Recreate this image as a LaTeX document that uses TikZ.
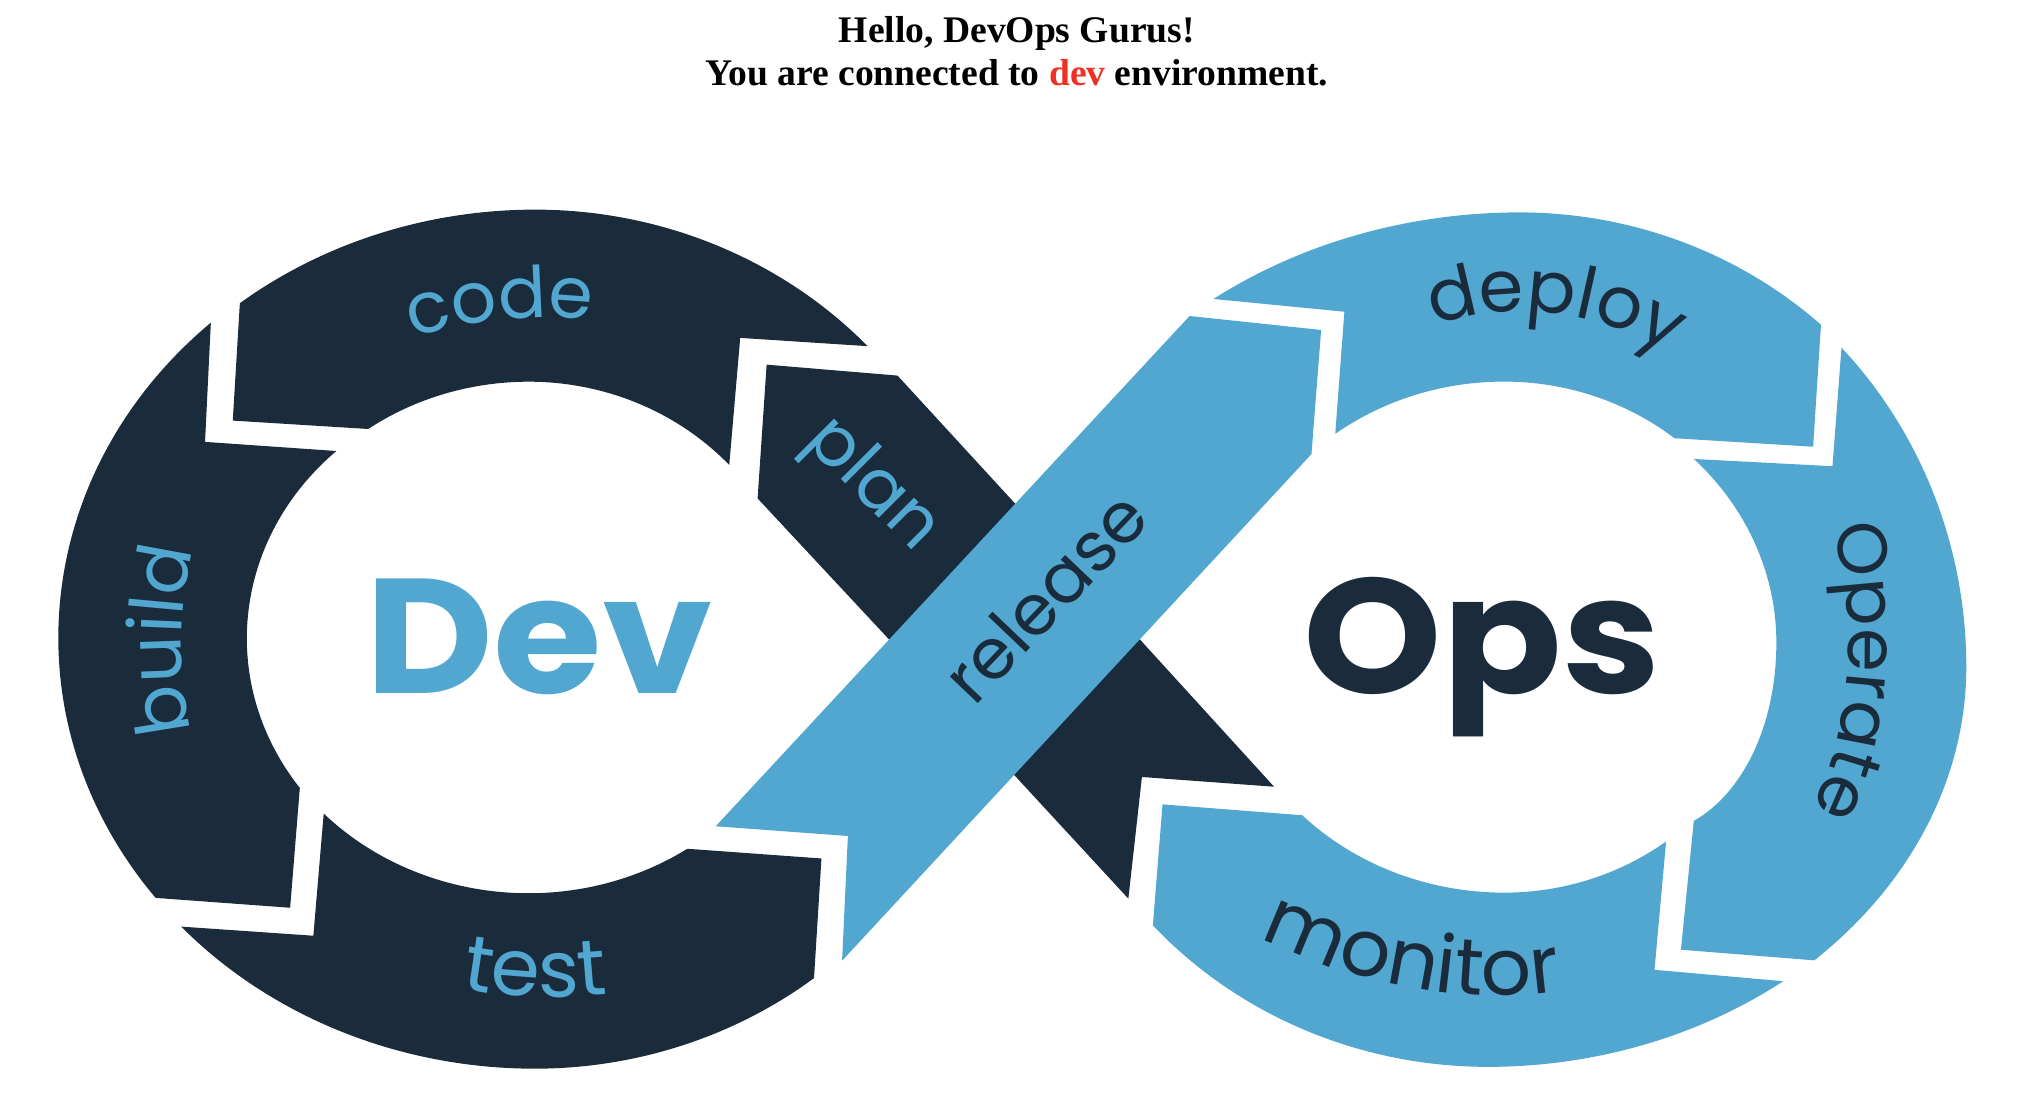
\documentclass[tikz,border=0pt]{standalone}
\usepackage{fontspec}
\usetikzlibrary{decorations.text}
\setmainfont{Liberation Serif}
\newfontfamily\poppinsfont{Poppins}
\newfontfamily\poppinswidefont[FakeStretch=1.08]{Poppins}
\newcommand{\wordfont}[1]{\poppinsfont\fontsize{#1}{#1}\selectfont}
\newcommand{\bigwordfont}{\poppinswidefont\bfseries\fontsize{46.5}{46.5}\selectfont}
\definecolor{devdark}{RGB}{26,43,60}
\definecolor{opsblue}{RGB}{82,167,209}
\definecolor{envred}{RGB}{238,49,36}
\tikzset{
	titleline/.style={anchor=base, font=\bfseries\fontsize{10.7}{12}\selectfont},
	bigword/.style={anchor=base, font=\bigwordfont},
	straightword/.style={anchor=base, font=\wordfont{20}},
	curveword/.style n args={3}{decorate, decoration={text along path, text align=center, text={|\wordfont{#2}\color{#1}|#3}}}
}
\begin{document}
\begin{tikzpicture}[x=0.006448cm, y=-0.006084cm]
	\useasboundingbox ( 0, -246.55 ) rectangle ( 3136, 1568 );

	% заголовок
	\node [titleline] (hello) at ( 1577, -176 ) {Hello, DevOps Gurus!};
	\node [titleline] (connected) at ( 1577, -105.5 ) {You are connected to \textcolor{envred}{dev} environment.};

	% code
	\fill [devdark] ( 372, 252 ) arc ( 231.45 : 270 : 735 and 706 ) arc ( 270 : 317 : 705 and 706 )
		-- ( 1148, 309 ) -- ( 1131, 518 ) arc ( 317.6 : 270 : 421 and 420.5 ) arc ( 270 : 234.6 : 430 and 420.5 )
		-- ( 361, 445 ) -- cycle;

	% build
	\fill [devdark] ( 327, 284 ) arc ( 227.2 : 142.7 : 738 and 706 )
		-- ( 450, 1246 ) -- ( 465, 1049 ) arc ( 144.2 : 227.1 : 435 and 420.5 )
		-- ( 318, 480 ) -- cycle;

	% test
	\fill [devdark] ( 281, 1277 ) arc ( 138 : 90 : 738 and 706 ) arc ( 90 : 52.1 : 705 and 706 )
		-- ( 1274, 1165 ) -- ( 1066, 1149 ) arc ( 55.7 : 90 : 437 and 420.5 ) arc ( 90 : 136.5 : 438 and 420.5 )
		-- ( 486, 1292 ) -- cycle;

	% plan
	\fill [devdark] ( 1189, 353 ) -- ( 1392, 371 ) -- ( 1768, 805 ) -- ( 1976, 1047 ) -- ( 1771, 1031 ) -- ( 1750, 1231 ) -- ( 1379, 805 ) -- ( 1175, 573 ) -- cycle;

	% release
	\fill [opsblue] ( 1845, 273 ) -- ( 2049, 296 ) -- ( 2034, 500 ) -- ( 1306, 1333 ) -- ( 1315, 1128 ) -- ( 1110, 1112 ) -- cycle;

	% deploy
	\fill [opsblue] ( 1882, 245 ) arc ( 232.9 : 270 : 787 and 703 ) arc ( 270 : 312.5 : 692 and 703 )
		-- ( 2812, 488 ) -- ( 2597, 474 ) arc ( 308.9 : 270 : 421 and 420 ) arc ( 270 : 232.7 : 432 and 420 )
		-- ( 2085, 266 ) -- cycle;

	% operate
	\fill [opsblue] ( 2856, 325 ) arc ( 315.6 : 360 : 678 and 750 ) arc ( 0 : 46.1 : 769 and 670 )
		-- ( 2607, 1315 ) -- ( 2627, 1103 ) .. controls ( 2700, 1060 ) and ( 2755, 950 ) .. ( 2755, 810 ) arc ( 360 : 315.4 : 444 and 430 )
		-- ( 2842, 520 ) -- cycle;

	% monitor
	\fill [opsblue] ( 1788, 1275 ) arc ( 138 : 90 : 699 and 703 ) arc ( 90 : 53.1 : 763 and 703 )
		-- ( 2566, 1348 ) -- ( 2584, 1137 ) arc ( 53.1 : 90 : 418 and 420 ) arc ( 90 : 135.8 : 437 and 420 )
		-- ( 1803, 1076 ) -- cycle;

	% крупные слова
	\node [bigword, text=opsblue] (dev) at ( 836, 893 ) {Dev};
	\node [bigword, text=devdark] (ops) at ( 2299, 893 ) {Ops};

	% прямые подписи
	\node [straightword, text=opsblue, rotate=-45] (plan) at ( 1333, 572 ) {plan};
	\node [straightword, text=devdark, rotate=46.4] (release) at ( 1650, 763 ) {release};

	% подписи по дуге
	\path [curveword={opsblue}{20.3}{code}] ( 600, 325 ) .. controls ( 700, 280 ) and ( 850, 260 ) .. ( 960, 290 );
	\path [curveword={opsblue}{21}{build}] ( 300, 969 ) .. controls ( 275, 864 ) and ( 275, 749 ) .. ( 303, 644 );
	\path [curveword={opsblue}{22.5}{test}] ( 680, 1372 ) .. controls ( 780, 1395 ) and ( 880, 1400 ) .. ( 980, 1383 );
	\path [curveword={devdark}{20.5}{deploy}] ( 2206, 295 ) .. controls ( 2326, 250 ) and ( 2466, 250 ) .. ( 2606, 345 );
	\path [curveword={devdark}{20}{Operate}] ( 2836, 590 ) .. controls ( 2880, 760 ) and ( 2885, 950 ) .. ( 2795, 1110 );
	\path [curveword={devdark}{22.5}{monitor}] ( 1930, 1280 ) .. controls ( 2100, 1380 ) and ( 2300, 1410 ) .. ( 2450, 1378 );
\end{tikzpicture}
\end{document}
